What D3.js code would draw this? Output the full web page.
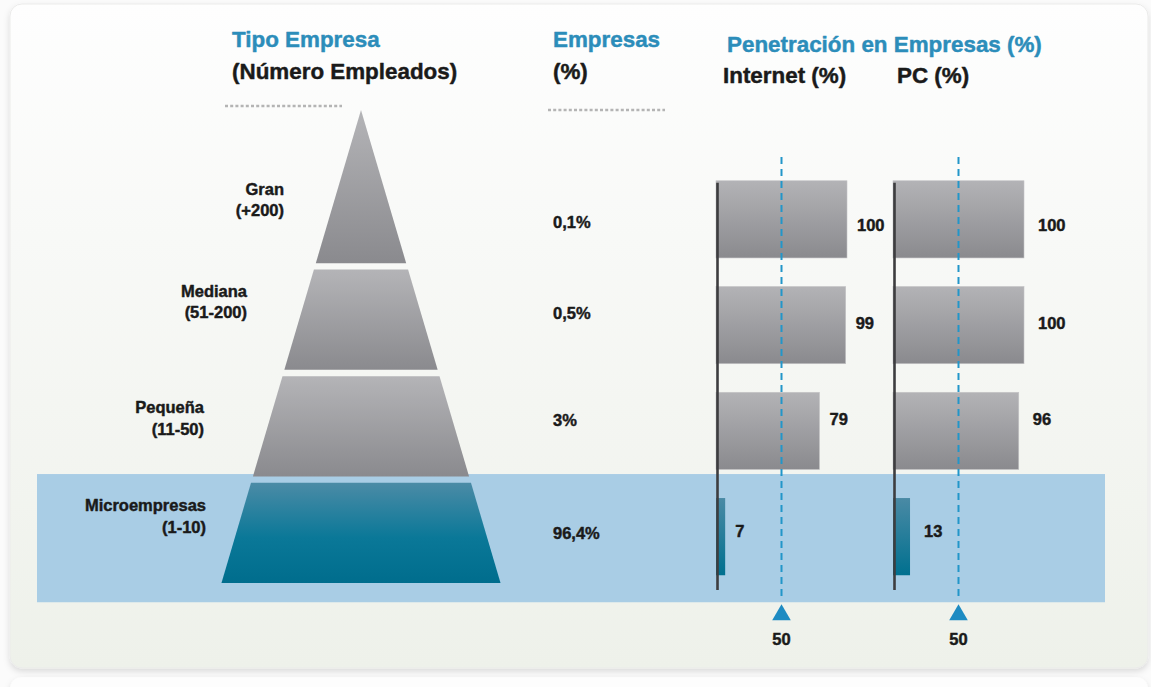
<!DOCTYPE html>
<html>
<head>
<meta charset="utf-8">
<script src="https://cdn.jsdelivr.net/npm/d3@7"></script>
<style>
  html, body { margin: 0; padding: 0; background: #fbfbfb; }
  svg { display: block; }
  text { font-family: "Liberation Sans", Arial, Helvetica, sans-serif; font-weight: bold;
         paint-order: stroke; stroke-width: 0.45px; stroke-linejoin: round; }
</style>
</head>
<body>
<svg id="chart" width="1151" height="687"></svg>
<script>
// Company types (size by number of employees)
const categories = ["Gran", "Mediana", "Pequeña", "Microempresas"];
const employeeRanges = ["(+200)", "(51-200)", "(11-50)", "(1-10)"];
// Share of companies (%)
const shareValues = [0.1, 0.5, 3, 96.4];
const shareLabels = ["0,1%", "0,5%", "3%", "96,4%"];
// Penetration in companies (%)
const internetValues = [100, 99, 79, 7];
const pcValues = [100, 100, 96, 13];
const referenceValue = 50;

const W = 1151, H = 687;
const svg = d3.select("#chart");
const defs = svg.append("defs");

// ---- gradients / filters
function vGrad(id, stops) {
  const g = defs.append("linearGradient").attr("id", id)
    .attr("x1", 0).attr("y1", 0).attr("x2", 0).attr("y2", 1);
  stops.forEach(s => g.append("stop").attr("offset", s[0]).attr("stop-color", s[1]));
}
vGrad("panelGrad", [[0, "#fefefe"], [0.35, "#f8f9f7"], [1, "#eef1ea"]]);
vGrad("grayGrad", [[0, "#b4b4b7"], [1, "#8a8a8e"]]);
vGrad("tealGrad", [[0, "#4b8ba6"], [0.55, "#0a7898"], [1, "#006d8d"]]);
vGrad("barGray", [[0, "#b3b3b6"], [1, "#8a8a8e"]]);
vGrad("barTeal", [[0, "#4a8aa5"], [1, "#00708f"]]);

const shadow = defs.append("filter").attr("id", "panelShadow")
  .attr("x", "-5%").attr("y", "-5%").attr("width", "110%").attr("height", "115%");
shadow.append("feDropShadow").attr("dx", 0).attr("dy", 3).attr("stdDeviation", 3)
  .attr("flood-color", "#000").attr("flood-opacity", 0.13);

// ---- background panels
svg.append("rect").attr("x", 10).attr("y", 677).attr("width", 1138).attr("height", 40)
  .attr("rx", 12).attr("fill", "#fdfdfd").attr("filter", "url(#panelShadow)");
svg.append("rect").attr("x", 10).attr("y", 4).attr("width", 1138).attr("height", 664)
  .attr("rx", 12).attr("fill", "url(#panelGrad)")
  .attr("stroke", "#ebebea").attr("stroke-width", 1)
  .attr("filter", "url(#panelShadow)");

// ---- scales
const yRow = d3.scaleBand().domain(categories).range([167, 589])
  .paddingInner(0.27).paddingOuter(0.13);
const yPyr = d3.scaleBand().domain(categories).range([163, 583]).paddingInner(0.06);
const xInternet = d3.scaleLinear().domain([0, 100]).range([716, 847]);
const xPC = d3.scaleLinear().domain([0, 100]).range([893, 1024]);

const pyrApex = { x: 361, y: 110 };
const pyrSlope = 0.295; // half-width gained per pixel of height
const half = y => pyrSlope * (y - pyrApex.y);

const ink = "#1a1a1a", blue = "#2c8dba", refBlue = "#2296c9";
const small = 16.5, big = 22.4;

// highlight band behind the micro-company row
const hl = "Microempresas";
svg.append("rect")
  .attr("x", 37).attr("width", 1068)
  .attr("y", yRow(hl) - 24).attr("height", yRow.bandwidth() + 51)
  .attr("fill", "#a9cde5");

// ---- headers
const head = svg.append("g");
function hText(x, y, t, c) {
  head.append("text").attr("x", x).attr("y", y).attr("fill", c).attr("stroke", c)
    .attr("font-size", big).text(t);
}
hText(232, 47, "Tipo Empresa", blue);
hText(232, 79, "(Número Empleados)", ink);
hText(553, 47, "Empresas", blue);
hText(553, 79, "(%)", ink);
hText(727, 52, "Penetración en Empresas (%)", blue);
hText(723, 83, "Internet (%)", ink);
hText(897, 83, "PC (%)", ink);

// dotted rules under the first two headers
[[225, 342, 106], [548, 665, 110]].forEach(d => {
  svg.append("line").attr("x1", d[0]).attr("x2", d[1]).attr("y1", d[2]).attr("y2", d[2])
    .attr("stroke", "#b4b4b4").attr("stroke-width", 2.5).attr("stroke-dasharray", "3,2.2");
});

// ---- pyramid
categories.forEach((c, i) => {
  const top = i === 0 ? pyrApex.y : yPyr(c);
  const bot = yPyr(c) + yPyr.bandwidth();
  const pts = [
    [pyrApex.x - half(top), top], [pyrApex.x + half(top), top],
    [pyrApex.x + half(bot), bot], [pyrApex.x - half(bot), bot]
  ];
  svg.append("path")
    .attr("d", d3.line()(pts) + "Z")
    .attr("fill", c === hl ? "url(#tealGrad)" : "url(#grayGrad)");
});

// category labels (name + employee range)
const labelX = [284, 247, 204, 206];
const labelDy = [14, 10, 21, 13];
categories.forEach((c, i) => {
  const t = svg.append("text").attr("text-anchor", "end").attr("font-size", small)
    .attr("fill", ink).attr("stroke", ink);
  t.append("tspan").attr("x", labelX[i]).attr("y", yRow(c) + labelDy[i]).text(c);
  t.append("tspan").attr("x", labelX[i]).attr("y", yRow(c) + labelDy[i] + 21.5).text(employeeRanges[i]);
});

// share of companies
const shareDy = [47, 32, 34, 41];
categories.forEach((c, i) => {
  svg.append("text").attr("x", 553).attr("y", yRow(c) + shareDy[i])
    .attr("font-size", small).attr("fill", ink).attr("stroke", ink).text(shareLabels[i]);
});

// ---- penetration bars
const valueDy = [50, 42, 33, 39];
function barGroup(values, x, labelGap) {
  const g = svg.append("g");
  g.selectAll("rect").data(categories).join("rect")
    .attr("x", x(0)).attr("y", c => yRow(c))
    .attr("width", (c, i) => x(values[i]) - x(0))
    .attr("height", yRow.bandwidth())
    .attr("fill", c => c === hl ? "url(#barTeal)" : "url(#barGray)")
    .attr("stroke", c => c === hl ? "none" : "#c4c4c6").attr("stroke-width", 0.6);
  // baseline
  g.append("line").attr("x1", x(0) + 1.5).attr("x2", x(0) + 1.5)
    .attr("y1", yRow(categories[0]) + 2).attr("y2", 590)
    .attr("stroke", "#3d3d3f").attr("stroke-width", 2.6);
  // value labels
  g.selectAll("text").data(categories).join("text")
    .attr("x", (c, i) => x(values[i]) + labelGap)
    .attr("y", (c, i) => yRow(c) + valueDy[i])
    .attr("font-size", small).attr("fill", ink).attr("stroke", ink)
    .text((c, i) => values[i]);
  // reference line with marker
  const rx = x(referenceValue);
  g.append("line").attr("x1", rx).attr("x2", rx).attr("y1", 157).attr("y2", 599)
    .attr("stroke", refBlue).attr("stroke-width", 2).attr("stroke-dasharray", "7,5");
  g.append("path")
    .attr("d", d3.symbol().type(d3.symbolTriangle).size(150)())
    .attr("transform", `translate(${rx},615)`)
    .attr("fill", "#1d8bc2");
  g.append("text").attr("x", rx).attr("y", 645).attr("text-anchor", "middle")
    .attr("font-size", small).attr("fill", ink).attr("stroke", ink).text(referenceValue);
}
barGroup(internetValues, xInternet, 10);
barGroup(pcValues, xPC, 14);
</script>
</body>
</html>
